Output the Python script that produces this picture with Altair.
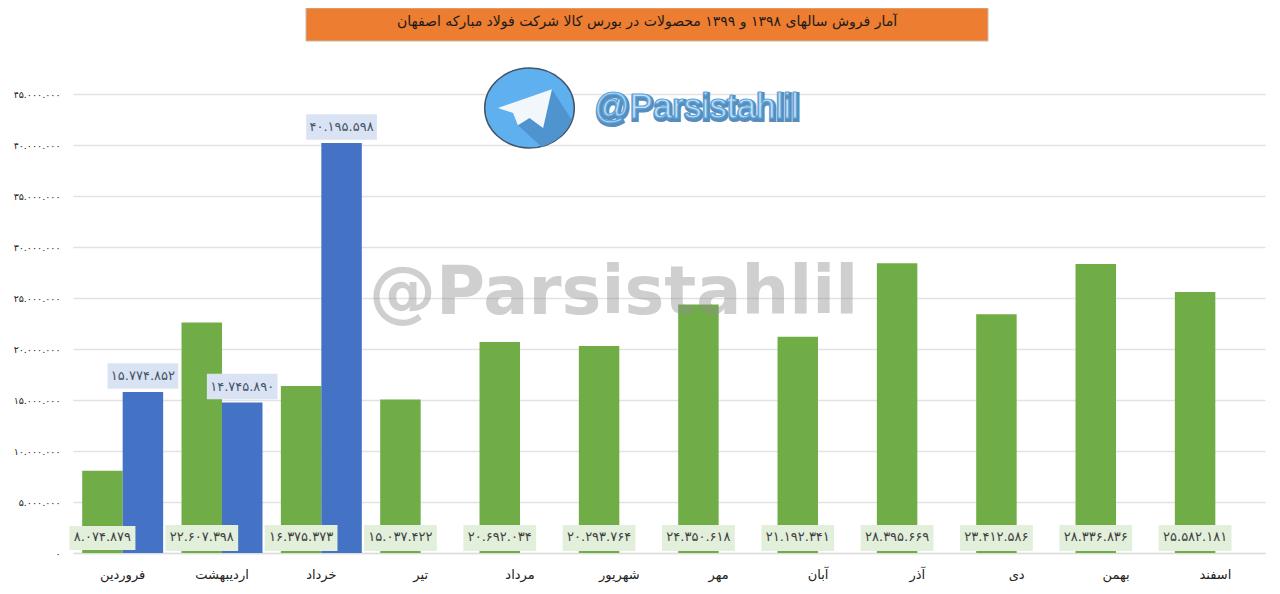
import json
import altair as alt
import pandas as pd

months = ["فروردین", "اردیبهشت", "خرداد", "تیر", "مرداد", "شهریور", "مهر", "آبان", "آذر", "دی", "بهمن", "اسفند"]
sales_98 = [8074879, 22607398, 16375373, 15037422, 20692034, 20293764, 24350618, 21192341, 28395669, 23412586, 28336836, 25582181]
labels_98 = ["۸.۰۷۴.۸۷۹", "۲۲.۶۰۷.۳۹۸", "۱۶.۳۷۵.۳۷۳", "۱۵.۰۳۷.۴۲۲", "۲۰.۶۹۲.۰۳۴", "۲۰.۲۹۳.۷۶۴", "۲۴.۳۵۰.۶۱۸", "۲۱.۱۹۲.۳۴۱", "۲۸.۳۹۵.۶۶۹", "۲۳.۴۱۲.۵۸۶", "۲۸.۳۳۶.۸۳۶", "۲۵.۵۸۲.۱۸۱"]
months_99 = ["فروردین", "اردیبهشت", "خرداد"]
sales_99 = [15774852, 14745890, 40195598]
labels_99 = ["۱۵.۷۷۴.۸۵۲", "۱۴.۷۴۵.۸۹۰", "۴۰.۱۹۵.۵۹۸"]
tick_values = [0, 5000000, 10000000, 15000000, 20000000, 25000000, 30000000, 35000000, 40000000, 45000000]
tick_labels = ["۰", "۵.۰۰۰.۰۰۰", "۱۰.۰۰۰.۰۰۰", "۱۵.۰۰۰.۰۰۰", "۲۰.۰۰۰.۰۰۰", "۲۵.۰۰۰.۰۰۰", "۳۰.۰۰۰.۰۰۰", "۳۵.۰۰۰.۰۰۰", "۴۰.۰۰۰.۰۰۰", "۴۵.۰۰۰.۰۰۰"]
title_text = "آمار فروش سالهای ۱۳۹۸ و ۱۳۹۹ محصولات در بورس کالا شرکت فولاد مبارکه اصفهان"
watermark = "@Parsistahlil"

FONT = "DejaVu Sans"
GREEN, BLUE = "#70ad47", "#4472c4"
GREEN_BOX, BLUE_BOX = "#e2efda", "#dae3f3"
BOX = "M-1,-0.36H1V0.36H-1Z"
ELLIPSE = "M-1.12,0A1.12,1 0 1,1 1.12,0A1.12,1 0 1,1 -1.12,0Z"
PLANE = "M-0.79,0L0.56,-0.47L0.34,0.5L0,0.25L-0.29,0.43L-0.41,0.125Z"
FOLD = "M0.56,-0.47L1.06,0.3Q0.85,0.8 0.3,0.97L-0.29,0.43L0,0.25L0.34,0.5Z"

df98 = pd.DataFrame({"month": months, "v": sales_98, "lab": labels_98, "s": "98"})
df99 = pd.DataFrame({"month": months_99, "v": sales_99, "lab": labels_99, "s": "99"})
one = pd.DataFrame({"a": [0]})

label_map = json.dumps({str(k): v for k, v in zip(tick_values, tick_labels)}, ensure_ascii=False)

x = alt.X("month:N", sort=months, title=None,
          scale=alt.Scale(paddingInner=0.185, paddingOuter=0.0925),
          axis=alt.Axis(labelAngle=0, labelFont=FONT, labelFontSize=13, labelColor="#222222",
                        labelPadding=15, ticks=False, domainColor="#dddddd", domainWidth=1.5))
xo = alt.XOffset("s:N", scale=alt.Scale(domain=["98", "99"], paddingInner=0, paddingOuter=0))
y = alt.Y("v:Q", title=None, scale=alt.Scale(domain=[0, 45000000], nice=False),
          axis=alt.Axis(values=tick_values, labelExpr=f"{label_map}[datum.value]", labelFont=FONT,
                        labelFontSize=9.5, labelColor="#222222", labelPadding=13, ticks=False,
                        domain=False, gridColor="#e2e2e2", gridWidth=1.5))

bars98 = alt.Chart(df98).mark_bar(color=GREEN).encode(x=x, xOffset=xo, y=y)
bars99 = alt.Chart(df99).mark_bar(color=BLUE).encode(x=x, xOffset=xo, y=y)

box98 = alt.Chart(df98).mark_point(shape=BOX, filled=True, opacity=1, color=GREEN_BOX, strokeWidth=0).encode(
    x=x, xOffset=xo, y=alt.value(444),
    size=alt.condition("length(datum.lab) < 10", alt.value(4356), alt.value(5300)))
box99 = alt.Chart(df99).mark_point(shape=BOX, filled=True, opacity=1, color=BLUE_BOX, size=5000, strokeWidth=0).encode(
    x=x, xOffset=xo, y=y, yOffset=alt.value(-16))
text98 = alt.Chart(df98).mark_text(font=FONT, fontSize=13, color="#404040").encode(
    x=x, xOffset=xo, y=alt.value(443), text="lab:N")
text99 = alt.Chart(df99).mark_text(font=FONT, fontSize=13, color="#44546a", dy=-16).encode(
    x=x, xOffset=xo, y=y, text="lab:N")

banner = alt.Chart(one).mark_rect(color="#ed7d31", stroke="#c9b9a8", strokeWidth=1).encode(
    x=alt.value(233), x2=alt.value(915), y=alt.value(-86), y2=alt.value(-53))
banner_text = alt.Chart(one).mark_text(font=FONT, fontSize=14, color="#1a1a1a").encode(
    x=alt.value(574), y=alt.value(-72), text=alt.value(title_text))

wm = alt.Chart(one).mark_text(font="DejaVu Sans", fontSize=67, fontWeight="bold", color="#8f8f8f",
                              opacity=0.42, align="left", baseline="alphabetic").encode(
    x=alt.value(296), y=alt.value(220), text=alt.value(watermark))

logo_circle = alt.Chart(one).mark_point(shape=ELLIPSE, filled=True, opacity=1, color="#5fb0ee", stroke="#44546a",
                                        strokeWidth=1.5, size=6400).encode(x=alt.value(456.5), y=alt.value(14))
logo_fold = alt.Chart(one).mark_point(shape=FOLD, filled=True, opacity=1, color="#4f93cf", strokeWidth=0,
                                      size=6400).encode(x=alt.value(456.5), y=alt.value(14))
logo_plane = alt.Chart(one).mark_point(shape=PLANE, filled=True, opacity=1, color="#f2f7fb", strokeWidth=0,
                                       size=6400).encode(x=alt.value(456.5), y=alt.value(14))
handle_shadow = alt.Chart(one).mark_text(font="Liberation Sans", fontSize=35, color="#3c7ab0", align="left",
                                         stroke="#3c7ab0", strokeWidth=4, opacity=0.85).encode(
    x=alt.value(522), y=alt.value(15), text=alt.value(watermark))
handle = alt.Chart(one).mark_text(font="Liberation Sans", fontSize=35, color="#c4e0f6", align="left",
                                  stroke="#5aa5dd", strokeWidth=1.2).encode(
    x=alt.value(521), y=alt.value(13), text=alt.value(watermark))

chart = alt.layer(
    bars98, bars99, wm, box98, box99, text98, text99, banner, banner_text,
    logo_circle, logo_fold, logo_plane, handle_shadow, handle).properties(
    width=1192, height=459,
    autosize=alt.AutoSizeParams(type="none"),
    padding={"left": 65, "top": 86, "right": 7, "bottom": 33},
    background="white",
).configure_view(stroke=None)

chart.save("out.html", embed_options={"renderer": "svg", "actions": False})
